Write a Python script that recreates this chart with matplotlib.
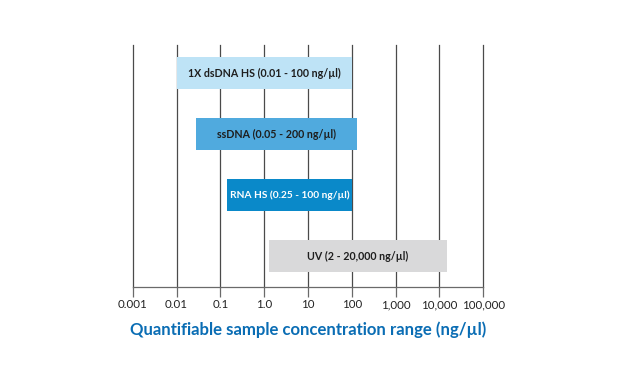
import numpy as np
import matplotlib
matplotlib.use("Agg")
import matplotlib.pyplot as plt

plt.rcParams['font.family'] = ['Lato', 'DejaVu Sans']

# data
labels = ["1X dsDNA HS (0.01 - 100 ng/µl)",
          "ssDNA (0.05 - 200 ng/µl)",
          "RNA HS (0.25 - 100 ng/µl)",
          "UV (2 - 20,000 ng/µl)"]
starts = np.array([0.0105, 0.028, 0.144, 1.29])
ends = np.array([100, 131, 100, 14600])
bar_colors = ["#bee3f6", "#50aade", "#0a89c9", "#d9d9da"]
text_colors = ["#1e1e1e", "#1e1e1e", "#ffffff", "#1e1e1e"]
tick_vals = [0.001, 0.01, 0.1, 1.0, 10, 100, 1000, 10000, 100000]
tick_labels = ["0.001", "0.01", "0.1", "1.0", "10", "100", "1,000", "10,000", "100,000"]

fig = plt.figure(figsize=(6.21, 3.81), dpi=100)
ax = fig.add_axes([0.2137, 0.2475, 0.5646, 0.6344])

ypos = np.arange(len(labels), 0, -1)
ax.barh(ypos, ends - starts, left=starts, height=0.516, color=bar_colors, zorder=3)

for y, s, e, lab, tc in zip(ypos, starts, ends, labels, text_colors):
    xc = np.sqrt(s * e)
    fs = 7.3 if y == 2 else 7.7
    ax.text(xc, y, lab, ha='center', va='center', color=tc,
            fontsize=fs, fontweight='bold', zorder=4)

ax.set_xscale('log')
ax.set_xlim(tick_vals[0], tick_vals[-1])
ax.set_ylim(0.497, 4.46)

for v in tick_vals:
    ax.axvline(v, color='#4a4a4a', lw=0.9, zorder=1, clip_on=False)

ax.set_xticks(tick_vals)
ax.set_xticklabels(tick_labels, fontsize=8.3, color='#222222')
ax.minorticks_off()
ax.tick_params(axis='x', length=7, width=0.9, color='#6a6a6a', pad=2)
ax.set_yticks([])
for side in ['top', 'left', 'right']:
    ax.spines[side].set_visible(False)
ax.spines['bottom'].set_color('#6a6a6a')
ax.spines['bottom'].set_linewidth(0.9)

ax.set_xlabel("Quantifiable sample concentration range (ng/µl)",
              fontsize=12.1, fontweight='bold', color='#0a6db4', labelpad=8)

fig.savefig("out.png", dpi=100)
